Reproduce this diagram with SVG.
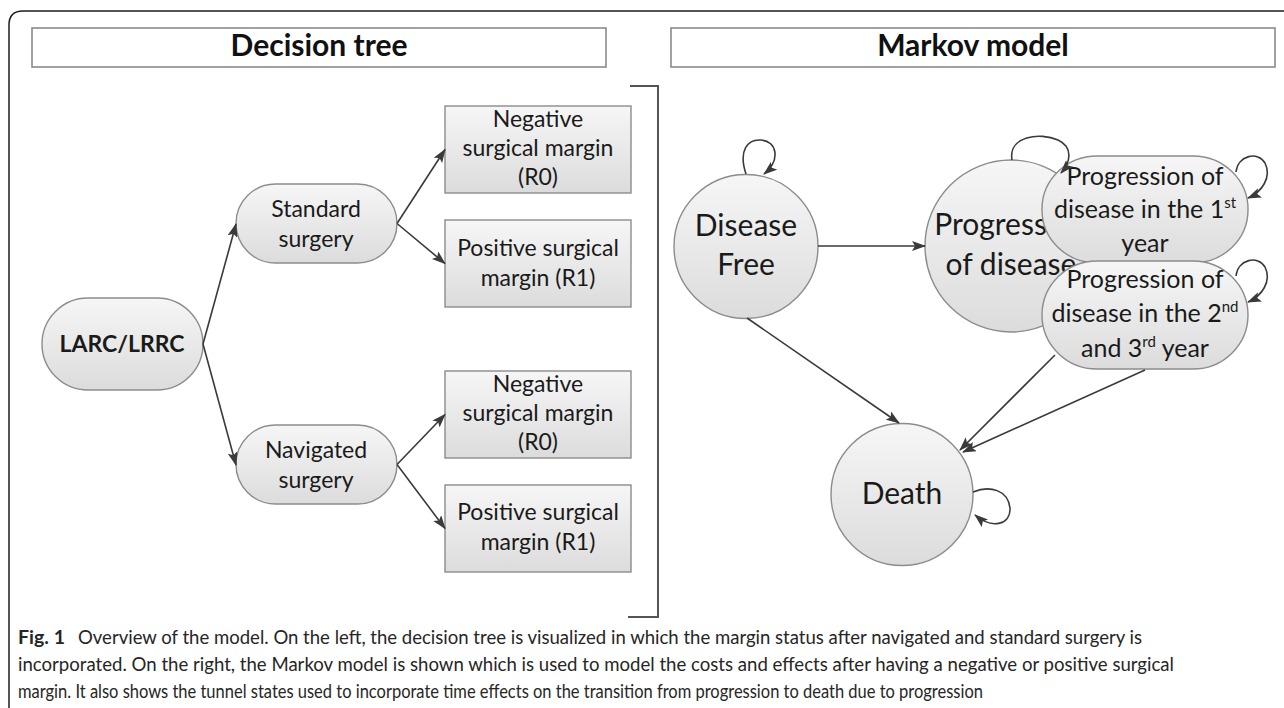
<svg xmlns="http://www.w3.org/2000/svg" width="1284" height="708" viewBox="0 0 1284 708">
<defs>
<linearGradient id="g" x1="0" y1="0" x2="0" y2="1">
<stop offset="0" stop-color="#f6f6f6"/>
<stop offset="1" stop-color="#dcdcdc"/>
</linearGradient>
<marker id="ah" viewBox="0 0 14 10" refX="13" refY="5" markerWidth="14" markerHeight="10" markerUnits="userSpaceOnUse" orient="auto">
<path d="M0,0 L14,5 L0,10 L3,5 z" fill="#3a3a3a"/>
</marker>
<clipPath id="pclip">
<path clip-rule="evenodd" d="M900,150 H1100 V340 H900 Z M1097,156 H1193 A55,53 0 0 1 1193,262 H1097 A55,53 0 0 1 1097,156 Z M1097,261 H1193 A55,54 0 0 1 1193,369 H1097 A55,54 0 0 1 1097,261 Z"/>
</clipPath>
<style>
.frame{fill:none;stroke:#1e1e1e;stroke-width:1.5}
.hdr{fill:#ffffff;stroke:#8a8a8a;stroke-width:1.6}
.hdrt{font-family:Lato,"Open Sans",sans-serif;font-weight:bold;font-size:30px;fill:#111;text-anchor:middle}
.nd{fill:url(#g);stroke:#8c8c8c;stroke-width:1.4}
.t{font-family:Lato,"Open Sans",sans-serif;font-size:23px;fill:#1a1a1a;text-anchor:middle}
.tb{font-weight:bold}
.tm{font-family:Lato,"Open Sans",sans-serif;font-size:30px;fill:#1a1a1a;text-anchor:middle}
.ts{font-family:Lato,"Open Sans",sans-serif;font-size:25px;fill:#1a1a1a;text-anchor:middle}
.c{fill:none;stroke:#3a3a3a;stroke-width:1.6;marker-end:url(#ah)}
.br{fill:none;stroke:#555;stroke-width:2}
.cap{font-family:Lato,"Open Sans",sans-serif;font-size:18.5px;fill:#262626}
</style>
</defs>

<path class="frame" d="M9,708 L9,25 Q9,11 23,11 L1284,11"/>

<g id="header-decision">
<rect class="hdr" x="32" y="28" width="574" height="39"/>
<text class="hdrt" x="319" y="56">Decision tree</text>
</g>
<g id="header-markov">
<rect class="hdr" x="671" y="28" width="604" height="39"/>
<text class="hdrt" x="973" y="56">Markov model</text>
</g>

<path id="bracket" class="br" d="M630,86 L658,86 L658,617 L628,617"/>

<g id="larc">
<rect class="nd" x="42" y="298" width="161" height="92" rx="46" ry="46"/>
<text class="t tb" x="122" y="352">LARC/LRRC</text>
</g>
<g id="standard">
<rect class="nd" x="236" y="184" width="161" height="79" rx="39.5" ry="39.5"/>
<text class="t" x="316" y="217">Standard</text>
<text class="t" x="316" y="247">surgery</text>
</g>
<g id="navigated">
<rect class="nd" x="236" y="425" width="161" height="79" rx="39.5" ry="39.5"/>
<text class="t" x="316" y="458">Navigated</text>
<text class="t" x="316" y="488">surgery</text>
</g>
<g id="neg1">
<rect class="nd" x="445" y="106" width="186" height="87"/>
<text class="t" x="538" y="127">Negative</text>
<text class="t" x="538" y="156">surgical margin</text>
<text class="t" x="538" y="185">(R0)</text>
</g>
<g id="pos1">
<rect class="nd" x="445" y="220" width="186" height="87"/>
<text class="t" x="538" y="256">Positive surgical</text>
<text class="t" x="538" y="286">margin (R1)</text>
</g>
<g id="neg2">
<rect class="nd" x="445" y="371" width="186" height="87"/>
<text class="t" x="538" y="392">Negative</text>
<text class="t" x="538" y="421">surgical margin</text>
<text class="t" x="538" y="450">(R0)</text>
</g>
<g id="pos2">
<rect class="nd" x="445" y="485" width="186" height="87"/>
<text class="t" x="538" y="520">Positive surgical</text>
<text class="t" x="538" y="550">margin (R1)</text>
</g>

<g id="disease-free">
<circle class="nd" cx="746" cy="246.5" r="72"/>
<text class="tm" x="746" y="236">Disease</text>
<text class="tm" x="746" y="275">Free</text>
</g>
<g id="progression">
<circle class="nd" cx="1011" cy="246" r="86"/>
<g clip-path="url(#pclip)">
<text class="tm" x="1011" y="235">Progression</text>
<text class="tm" x="1011" y="275">of disease</text>
</g>
</g>
<g id="tunnel1">
<rect class="nd" x="1042" y="156" width="206" height="107" rx="55" ry="53"/>
<text class="ts" x="1145" y="185">Progression of</text>
<text class="ts" x="1145" y="218">disease in the 1<tspan dy="-10" font-size="15">st</tspan></text>
<text class="ts" x="1145" y="252">year</text>
</g>
<g id="tunnel2">
<rect class="nd" x="1042" y="261" width="206" height="108" rx="55" ry="54"/>
<text class="ts" x="1145" y="288">Progression of</text>
<text class="ts" x="1145" y="322">disease in the 2<tspan dy="-10" font-size="15">nd</tspan></text>
<text class="ts" x="1145" y="357">and 3<tspan dy="-10" font-size="15">rd</tspan><tspan dy="10"> year</tspan></text>
</g>
<g id="death">
<circle class="nd" cx="902" cy="494.5" r="71"/>
<text class="tm" x="902" y="504">Death</text>
</g>

<g id="connectors">
<line class="c" x1="203" y1="344" x2="236" y2="224"/>
<line class="c" x1="203" y1="344" x2="236" y2="465"/>
<line class="c" x1="397" y1="223.5" x2="445" y2="149.5"/>
<line class="c" x1="397" y1="223.5" x2="445" y2="263.5"/>
<line class="c" x1="397" y1="464.5" x2="445" y2="414.5"/>
<line class="c" x1="397" y1="464.5" x2="445" y2="528.5"/>
<line class="c" x1="818" y1="246" x2="925" y2="246"/>
<line class="c" x1="747" y1="318" x2="899" y2="423"/>
<line class="c" x1="1055" y1="355" x2="960" y2="450"/>
<line class="c" x1="1145" y1="370" x2="963" y2="452"/>
<path class="c" d="M746,174 C738,150 748,139 761,140 C777,141 781,160 764,174"/>
<path class="c" d="M1012,160 C1008,136 1040,132 1058,140 C1073,147 1071,162 1061,173"/>
<path class="c" d="M1236,172 C1238,155 1258,151 1265,163 C1272,177 1262,192 1248,198"/>
<path class="c" d="M1236,276 C1238,259 1258,255 1265,267 C1272,281 1262,296 1248,302"/>
<path class="c" d="M973,492 C990,485 1008,490 1010,508 C1011,524 993,530 975,515"/>
</g>

<g id="caption">
<text class="cap" x="18" y="644"><tspan font-weight="bold" font-size="19.5">Fig. 1</tspan></text>
<text class="cap" x="78" y="644" textLength="1064" lengthAdjust="spacingAndGlyphs">Overview of the model. On the left, the decision tree is visualized in which the margin status after navigated and standard surgery is</text>
<text class="cap" x="18" y="671" textLength="1156" lengthAdjust="spacingAndGlyphs">incorporated. On the right, the Markov model is shown which is used to model the costs and effects after having a negative or positive surgical</text>
<text class="cap" x="18" y="698" textLength="965" lengthAdjust="spacingAndGlyphs">margin. It also shows the tunnel states used to incorporate time effects on the transition from progression to death due to progression</text>
</g>
</svg>
